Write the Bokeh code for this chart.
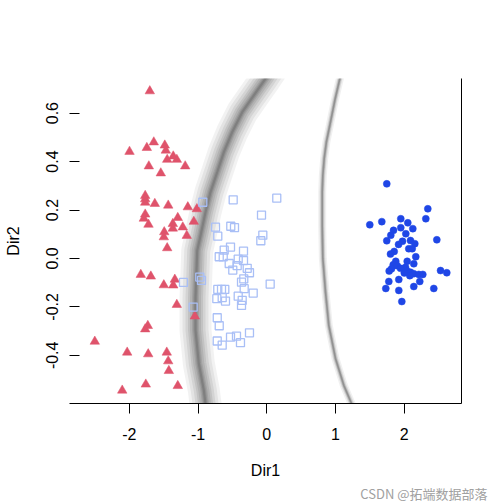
from bokeh.plotting import figure
from bokeh.models import Range1d, FixedTicker, LinearAxis, Title
from bokeh.embed import file_html
from bokeh.resources import INLINE

# ---------------- data ----------------
red_x = [-1.702, -1.644, -1.745, -1.484, -1.469, -1.997, -1.361, -1.449, -1.309, -1.716,
         -1.187, -1.542, -1.769, -1.769, -1.769, -1.629, -1.434, -1.149, -1.018, -1.769,
         -1.789, -1.295, -1.721, -1.367, -1.367, -1.222, -1.062, -1.492, -1.164, -1.498,
         -1.449, -1.833, -1.687, -1.338, -1.498, -1.361, -1.309, -1.047, -1.731, -1.769,
         -2.502, -2.031, -1.725, -1.455, -1.434, -1.425, -1.760, -1.295, -2.103]
red_y = [0.691, 0.480, 0.457, 0.467, 0.446, 0.441, 0.422, 0.408, 0.408, 0.381,
         0.381, 0.352, 0.259, 0.245, 0.231, 0.226, 0.219, 0.212, 0.204, 0.182,
         0.165, 0.168, 0.140, 0.143, 0.124, 0.129, 0.152, 0.109, 0.094, 0.088,
         0.043, -0.067, -0.074, -0.087, -0.110, -0.111, -0.191, -0.239, -0.278, -0.292,
         -0.343, -0.388, -0.395, -0.388, -0.424, -0.464, -0.520, -0.526, -0.545]

sq_x = [-0.931, -0.489, 0.145, -0.077, -0.746, -0.524, -0.470, -0.713, -0.058, -0.087,
        -0.620, -0.528, -0.339, -0.692, -0.634, -0.416, -0.339, -0.547, -0.431, -0.285,
        -0.495, -0.252, -1.212, -0.975, -0.950, -0.335, -0.368, 0.049, -0.329, -0.713,
        -0.659, -0.611, -0.727, -0.649, -0.601, -0.416, -0.358, -0.368, -0.198, -1.071,
        -0.721, -0.692, -0.252, -0.528, -0.441, -0.721, -0.649, -0.383]
sq_y = [0.232, 0.242, 0.249, 0.179, 0.129, 0.133, 0.127, 0.092, 0.096, 0.073,
        0.034, 0.047, 0.030, 0.007, 0.007, -0.003, -0.009, -0.021, -0.030, -0.041,
        -0.048, -0.059, -0.099, -0.077, -0.091, -0.084, -0.098, -0.106, -0.125, -0.128,
        -0.128, -0.128, -0.166, -0.162, -0.176, -0.156, -0.173, -0.194, -0.143, -0.201,
        -0.245, -0.278, -0.307, -0.325, -0.321, -0.341, -0.358, -0.348]

ci_x = [1.745, 2.342, 2.313, 1.949, 1.498, 1.673, 2.051, 1.949, 2.124, 1.843,
        2.022, 1.804, 1.745, 2.473, 1.974, 1.916, 2.090, 2.153, 2.065, 2.115,
        1.853, 1.799, 2.167, 2.042, 1.876, 2.138, 1.839, 1.897, 1.814, 1.780,
        2.017, 2.042, 2.090, 2.138, 2.211, 2.269, 2.080, 2.527, 2.618, 2.225,
        1.920, 1.775, 1.731, 2.138, 2.429, 1.920, 1.964, 1.945, 2.000]
ci_y = [0.308, 0.205, 0.164, 0.164, 0.139, 0.152, 0.147, 0.127, 0.123, 0.116,
        0.102, 0.096, 0.073, 0.077, 0.071, 0.058, 0.074, 0.061, 0.040, 0.040,
        0.029, 0.018, 0.007, -0.012, -0.012, -0.022, -0.026, -0.030, -0.043, -0.052,
        -0.036, -0.052, -0.057, -0.063, -0.066, -0.066, -0.071, -0.050, -0.059, -0.095,
        -0.087, -0.095, -0.124, -0.116, -0.124, -0.132, -0.178, -0.041, -0.060]

# decision boundaries (centre lines of the grey bands)
b1_x = [0.07, -0.019, -0.189, -0.358, -0.503, -0.625, -0.721, -0.819, -0.892, -0.964,
        -1.012, -1.037, -1.037, -0.989, -0.916, -0.892, -0.87]
b1_y = [0.78, 0.742, 0.673, 0.604, 0.522, 0.439, 0.357, 0.274, 0.191, 0.095,
        0.033, -0.160, -0.297, -0.434, -0.545, -0.599, -0.64]
b2_x = [1.09, 1.062, 0.989, 0.916, 0.868, 0.835, 0.815, 0.806, 0.806, 0.815, 0.854,
        0.902, 0.999, 1.120, 1.232, 1.26]
b2_y = [0.78, 0.742, 0.652, 0.549, 0.483, 0.413, 0.343, 0.274, 0.136, 0.0, -0.139,
        -0.277, -0.413, -0.524, -0.599, -0.64]

x_ticks = [-2, -1, 0, 1, 2]
x_labels = ["-2", "-1", "0", "1", "2"]
y_ticks = [-0.6, -0.4, -0.2, 0.0, 0.2, 0.4, 0.6]
y_labels = ["-0.6", "-0.4", "-0.2", "0.0", "0.2", "0.4", "0.6"]

FONT = "Liberation Sans"

p = figure(width=494, height=502,
           x_range=Range1d(-2.870, 2.832), y_range=Range1d(-0.599, 0.743),
           output_backend="svg", toolbar_location=None,
           min_border_left=69, min_border_right=33,
           min_border_top=78, min_border_bottom=99)
p.outline_line_color = None
p.xgrid.visible = False
p.ygrid.visible = False
p.background_fill_color = "white"

# grey uncertainty bands
for w, a in zip([32, 26, 20, 15, 11, 7, 4.5, 2.2], [0.05, 0.06, 0.07, 0.08, 0.08, 0.09, 0.1, 0.12]):
    p.line(b1_x, b1_y, line_color="black", line_alpha=a, line_width=w)
for w, a in zip([8, 5, 3, 1.6], [0.06, 0.1, 0.15, 0.2]):
    p.line(b2_x, b2_y, line_color="black", line_alpha=a, line_width=w)

# points
p.scatter(red_x, red_y, marker="triangle", size=9.5, fill_color="#DF536B", line_color="#DF536B", line_width=0.5)
p.scatter(sq_x, sq_y, marker="square", size=8, fill_color=None, line_color="#A9BFF6", line_width=1.3)
p.scatter(ci_x, ci_y, marker="circle", size=7, fill_color="#1F46E6", line_color="#1F46E6", line_width=0.5)

# axes
p.xaxis.ticker = FixedTicker(ticks=x_ticks)
p.xaxis.major_label_overrides = {t: l for t, l in zip(x_ticks, x_labels)}
p.yaxis.ticker = FixedTicker(ticks=y_ticks)
p.yaxis.major_label_overrides = {t: l for t, l in zip(y_ticks, y_labels)}
for ax in (p.xaxis[0], p.yaxis[0]):
    ax.minor_tick_line_color = None
    ax.major_label_text_font = FONT
    ax.major_label_text_font_size = "16px"
    ax.major_label_text_color = "black"
    ax.major_tick_line_color = "black"
    ax.axis_line_color = "black"
    ax.axis_label_text_font = FONT
    ax.axis_label_text_font_size = "16px"
    ax.axis_label_text_font_style = "normal"
    ax.axis_label_text_color = "black"

p.xaxis.major_tick_out = 10
p.xaxis.major_tick_in = 0
p.xaxis.major_label_standoff = 14
p.xaxis.axis_label = "Dir1"
p.xaxis.axis_label_standoff = 19

p.yaxis.axis_line_color = None
p.yaxis.major_tick_in = 10
p.yaxis.major_tick_out = 0
p.yaxis.major_label_orientation = "vertical"
p.yaxis.major_label_standoff = 11
p.yaxis.axis_label = "Dir2"
p.yaxis.axis_label_standoff = 22

right = LinearAxis(ticker=FixedTicker(ticks=[]), major_label_text_font_size="0px",
                   major_tick_out=0, major_tick_in=0, minor_tick_out=0, minor_tick_in=0,
                   axis_line_color="black")
p.add_layout(right, "right")

p.add_layout(Title(text="CSDN @拓端数据部落", align="right", offset=-26,
                   text_font="Noto Sans CJK SC", text_font_size="13px",
                   text_font_style="normal", text_color="#a0a0a0", standoff=0), "below")

open("out.html", "w").write(file_html(p, INLINE))
